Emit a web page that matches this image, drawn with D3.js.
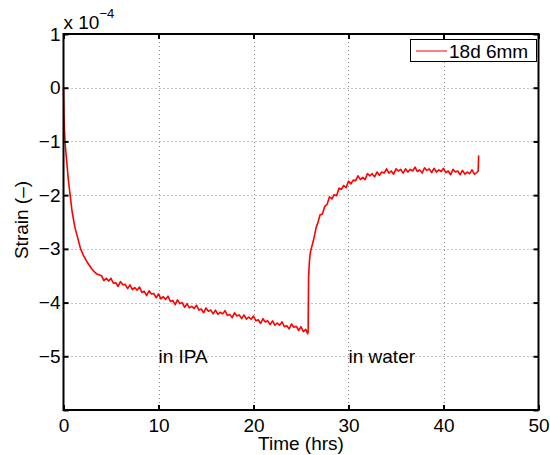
<!DOCTYPE html>
<html>
<head>
<meta charset="utf-8">
<script src="https://cdn.jsdelivr.net/npm/d3@7"></script>
<style>
  html, body { margin: 0; padding: 0; background: #fff; }
  svg { display: block; font-family: "Liberation Sans", Arial, sans-serif; }
</style>
</head>
<body>
<svg id="chart" width="550" height="455"></svg>
<script>
// ---------- data (strain in units of 1e-4) ----------
const seriesName = "18d 6mm";
const xTicks = [0, 10, 20, 30, 40, 50];
const yTicks = [-6, -5, -4, -3, -2, -1, 0, 1];
const yTickLabels = ["", "−5", "−4", "−3", "−2", "−1", "0", "1"];
const annotations = [
  { t: 10, v: -5, text: "in IPA" },
  { t: 30, v: -5, text: "in water" }
];

const timeHrs = [
  0, 0.05, 0.1, 0.2, 0.35, 0.5, 0.7, 0.9, 1.2, 1.5, 1.8, 2.1, 2.5, 3.0, 3.5,
  4.00, 4.25, 4.50, 4.75, 5.00, 5.25, 5.50, 5.75, 6.00, 6.25, 6.50, 6.75,
  7.00, 7.25, 7.50, 7.75, 8.00, 8.25, 8.50, 8.75, 9.00, 9.25, 9.50, 9.75,
  10.00, 10.25, 10.50, 10.75, 11.00, 11.25, 11.50, 11.75, 12.00, 12.25, 12.50, 12.75,
  13.00, 13.25, 13.50, 13.75, 14.00, 14.25, 14.50, 14.75, 15.00, 15.25, 15.50, 15.75,
  16.00, 16.25, 16.50, 16.75, 17.00, 17.25, 17.50, 17.75, 18.00, 18.25, 18.50, 18.75,
  19.00, 19.25, 19.50, 19.75, 20.00, 20.25, 20.50, 20.75, 21.00, 21.25, 21.50, 21.75,
  22.00, 22.25, 22.50, 22.75, 23.00, 23.25, 23.50, 23.75, 24.00, 24.25, 24.50, 24.75,
  25.00, 25.25, 25.50, 25.70, 25.75,
  25.80, 25.90, 26.00, 26.30, 26.60, 26.80,
  27.00, 27.25, 27.50, 27.75, 28.00, 28.25, 28.50, 28.75, 29.00, 29.25, 29.50, 29.75,
  30.00, 30.25, 30.50, 30.75, 31.00, 31.25, 31.50, 31.75, 32.00, 32.25, 32.50, 32.75,
  33.00, 33.25, 33.50, 33.75, 34.00, 34.25, 34.50, 34.75, 35.00, 35.25, 35.50, 35.75,
  36.00, 36.25, 36.50, 36.75, 37.00, 37.25, 37.50, 37.75, 38.00, 38.25, 38.50, 38.75,
  39.00, 39.25, 39.50, 39.75, 40.00, 40.25, 40.50, 40.75, 41.00, 41.25, 41.50, 41.75,
  42.00, 42.25, 42.50, 42.75, 43.00, 43.25, 43.50, 43.65, 43.70
];

const strain = [
  0.0, -0.5, -0.8, -1.1, -1.4, -1.7, -2.0, -2.3, -2.6, -2.8, -3.0, -3.12, -3.25, -3.38, -3.47,
  -3.50, -3.59, -3.55, -3.60, -3.55, -3.64, -3.63, -3.70, -3.61, -3.67, -3.66, -3.74,
  -3.67, -3.76, -3.72, -3.77, -3.71, -3.81, -3.79, -3.87, -3.78, -3.84, -3.83, -3.91,
  -3.84, -3.93, -3.89, -3.94, -3.88, -3.98, -3.96, -4.04, -3.95, -4.02, -4.00, -4.09,
  -4.02, -4.10, -4.07, -4.11, -4.05, -4.14, -4.12, -4.19, -4.10, -4.16, -4.14, -4.21,
  -4.14, -4.22, -4.18, -4.21, -4.15, -4.24, -4.22, -4.28, -4.19, -4.25, -4.23, -4.30,
  -4.23, -4.31, -4.27, -4.31, -4.25, -4.34, -4.32, -4.39, -4.30, -4.36, -4.34, -4.41,
  -4.34, -4.42, -4.38, -4.42, -4.36, -4.45, -4.43, -4.49, -4.40, -4.46, -4.44, -4.52,
  -4.45, -4.54, -4.50, -4.58, -4.55,
  -3.50, -3.20, -3.05, -2.85, -2.60, -2.50,
  -2.37, -2.35, -2.21, -2.17, -2.03, -2.07, -1.99, -2.01, -1.87, -1.89, -1.82, -1.86,
  -1.74, -1.79, -1.72, -1.73, -1.64, -1.71, -1.67, -1.71, -1.60, -1.64, -1.60, -1.66,
  -1.57, -1.63, -1.57, -1.59, -1.51, -1.59, -1.55, -1.61, -1.51, -1.55, -1.52, -1.59,
  -1.51, -1.57, -1.52, -1.55, -1.48, -1.56, -1.53, -1.59, -1.49, -1.54, -1.51, -1.58,
  -1.50, -1.57, -1.53, -1.56, -1.50, -1.58, -1.55, -1.62, -1.52, -1.57, -1.55, -1.62,
  -1.54, -1.61, -1.57, -1.60, -1.53, -1.61, -1.58, -1.55, -1.26
];

// ---------- layout ----------
const svg = d3.select("#chart");
const L = 63.5, R = 538.5, T = 34, B = 410;
const FS = 19;

const x = d3.scaleLinear().domain([0, 50]).range([L, R]);
const y = d3.scaleLinear().domain([-6, 1]).range([B, T]);

// grid
const grid = svg.append("g").attr("stroke", "#8a8a8a").attr("stroke-width", 1)
  .attr("stroke-dasharray", "1,3").attr("fill", "none");
grid.selectAll("line.gx").data(xTicks.slice(1, -1)).enter().append("line")
  .attr("x1", d => Math.round(x(d)) + 0.5).attr("x2", d => Math.round(x(d)) + 0.5)
  .attr("y1", T).attr("y2", B);
grid.selectAll("line.gy").data(yTicks.slice(1, -1)).enter().append("line")
  .attr("y1", d => Math.round(y(d)) + 0.5).attr("y2", d => Math.round(y(d)) + 0.5)
  .attr("x1", L).attr("x2", R);

// data line
const pts = timeHrs.map((t, i) => [t, strain[i]]);
svg.append("path").datum(pts)
  .attr("fill", "none").attr("stroke", "#ff0000").attr("stroke-width", 1.6)
  .attr("stroke-linejoin", "round")
  .attr("d", d3.line().x(d => x(d[0])).y(d => y(d[1])));

// axes (inward ticks on all sides)
const tickLen = 5;
const axB = svg.append("g").attr("transform", `translate(0,${B})`)
  .call(d3.axisBottom(x).tickValues(xTicks).tickSizeInner(-tickLen).tickSizeOuter(0).tickPadding(9));
const axT = svg.append("g").attr("transform", `translate(0,${T})`)
  .call(d3.axisTop(x).tickValues(xTicks).tickSizeInner(-tickLen).tickSizeOuter(0).tickFormat(""));
const axL = svg.append("g").attr("transform", `translate(${L},0)`)
  .call(d3.axisLeft(y).tickValues(yTicks).tickSizeInner(-tickLen).tickSizeOuter(0).tickPadding(3)
    .tickFormat((d, i) => yTickLabels[i]));
const axR = svg.append("g").attr("transform", `translate(${R},0)`)
  .call(d3.axisRight(y).tickValues(yTicks).tickSizeInner(-tickLen).tickSizeOuter(0).tickFormat(""));

[axB, axT, axL, axR].forEach(g => {
  g.select(".domain").remove();
  g.selectAll(".tick line").attr("stroke", "#000").attr("stroke-width", 2);
  g.selectAll("text").attr("fill", "#000").attr("font-size", FS)
    .attr("font-family", "'Liberation Sans', Arial, sans-serif");
});
axB.selectAll("text").attr("dy", "0.71em");

// box
svg.append("rect").attr("x", L).attr("y", T).attr("width", R - L).attr("height", B - T)
  .attr("fill", "none").attr("stroke", "#000").attr("stroke-width", 2);

// exponent label
const expT = svg.append("text").attr("x", L).attr("y", 28.5).attr("font-size", FS).attr("fill", "#000");
expT.append("tspan").text("x 10");
expT.append("tspan").attr("font-size", 13).attr("dy", -11).text("−4");

// axis titles
svg.append("text").attr("x", (L + R) / 2).attr("y", 450).attr("text-anchor", "middle")
  .attr("font-size", FS).attr("fill", "#000").text("Time (hrs)");
svg.append("text").attr("transform", `translate(28,220) rotate(-90)`)
  .attr("text-anchor", "middle").attr("font-size", FS).attr("fill", "#000").text("Strain (–)");

// annotations
svg.selectAll("text.ann").data(annotations).enter().append("text")
  .attr("x", d => x(d.t)).attr("y", d => y(d.v)).attr("dy", "0.35em")
  .attr("font-size", FS).attr("fill", "#000").text(d => d.text);

// legend
const lg = svg.append("g");
lg.append("rect").attr("x", 410.5).attr("y", 39.5).attr("width", 126).attr("height", 22)
  .attr("fill", "#fff").attr("stroke", "#000").attr("stroke-width", 1);
lg.append("line").attr("x1", 416).attr("x2", 447).attr("y1", 51).attr("y2", 51)
  .attr("stroke", "#ff0000").attr("stroke-width", 1);
lg.append("text").attr("x", 449).attr("y", 57.5).attr("font-size", FS).attr("fill", "#000").text(seriesName);
</script>
</body>
</html>
